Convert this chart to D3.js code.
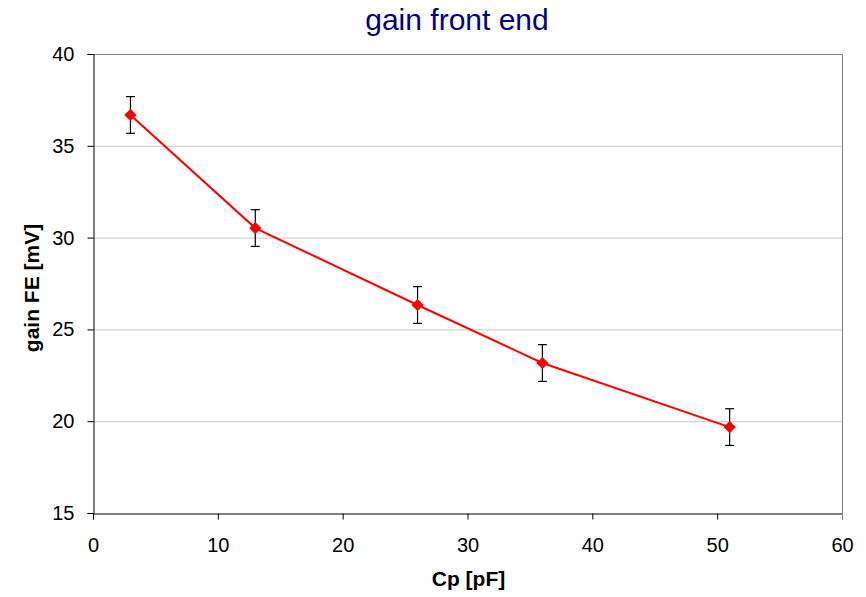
<!DOCTYPE html>
<html>
<head>
<meta charset="utf-8">
<script src="https://cdn.jsdelivr.net/npm/d3@7"></script>
<style>
  html, body { margin: 0; padding: 0; background: #fff; }
  svg { display: block; font-family: "Liberation Sans", Arial, sans-serif; }
</style>
</head>
<body>
<svg id="chart" width="866" height="597"></svg>
<script>
// Front-end gain versus detector capacitance
const capacitance = [3, 13, 26, 36, 51];          // Cp [pF]
const gain = [36.68, 30.52, 26.33, 23.17, 19.68];  // gain FE [mV]
const gainError = [1, 1, 1, 1, 1];                 // ± error [mV]
const xTicks = [0, 10, 20, 30, 40, 50, 60];
const yTicks = [15, 20, 25, 30, 35, 40];

const svg = d3.select("#chart");
const margin = { left: 93, top: 54, right: 842, bottom: 513 };

const x = d3.scaleLinear().domain([0, 60]).range([margin.left, margin.right]);
const y = d3.scaleLinear().domain([15, 40]).range([margin.bottom, margin.top]);

// gridlines
svg.append("g")
  .selectAll("line")
  .data(yTicks.filter(t => t !== 15 && t !== 40))
  .join("line")
  .attr("x1", margin.left).attr("x2", margin.right)
  .attr("y1", d => y(d) + 0.5).attr("y2", d => y(d) + 0.5)
  .attr("stroke", "#c8c8c8").attr("stroke-width", 1);

// plot-area frame (top and right)
svg.append("path")
  .attr("d", `M${margin.left},${margin.top + 0.5}H${margin.right + 0.5}V${margin.bottom}`)
  .attr("fill", "none").attr("stroke", "#808080").attr("stroke-width", 1);

// axes
const xAxis = d3.axisBottom(x).tickValues(xTicks).tickSize(6).tickPadding(18).tickFormat(d3.format("d"));
const yAxis = d3.axisLeft(y).tickValues(yTicks).tickSize(6).tickPadding(13).tickFormat(d3.format("d"));

const gx = svg.append("g").attr("transform", `translate(0,${margin.bottom + 0.5})`).call(xAxis);
const gy = svg.append("g").attr("transform", `translate(${margin.left + 0.5},0)`).call(yAxis);
[gx, gy].forEach(g => {
  g.select(".domain").attr("stroke", "#000");
  g.selectAll(".tick line").attr("stroke", "#000");
  g.selectAll(".tick text").attr("fill", "#000").attr("font-size", 20)
    .attr("font-family", "'Liberation Sans', Arial, sans-serif");
});
gx.selectAll(".tick line").filter(d => d === 60).attr("stroke", "#808080");

// error bars
const cap = 4.5;
const eb = svg.append("g").attr("stroke", "#000").attr("stroke-width", 1.2);
capacitance.forEach((c, i) => {
  const cx = x(c), top = y(gain[i] + gainError[i]), bot = y(gain[i] - gainError[i]);
  eb.append("line").attr("x1", cx).attr("x2", cx).attr("y1", top).attr("y2", bot);
  eb.append("line").attr("x1", cx - cap).attr("x2", cx + cap).attr("y1", top).attr("y2", top);
  eb.append("line").attr("x1", cx - cap).attr("x2", cx + cap).attr("y1", bot).attr("y2", bot);
});

// series line
const pts = capacitance.map((c, i) => [c, gain[i]]);
svg.append("path")
  .datum(pts)
  .attr("fill", "none").attr("stroke", "#ff0000").attr("stroke-width", 2)
  .attr("d", d3.line().x(d => x(d[0])).y(d => y(d[1])));

// diamond markers
svg.append("g")
  .selectAll("path")
  .data(pts)
  .join("path")
  .attr("transform", d => `translate(${x(d[0])},${y(d[1])})`)
  .attr("d", d3.symbol().type(d3.symbolDiamond2).size(95))
  .attr("fill", "#ff0000");

// titles
svg.append("text")
  .attr("x", 457).attr("y", 30).attr("text-anchor", "middle")
  .attr("font-size", 30).attr("fill", "#000080")
  .text("gain front end");

svg.append("text")
  .attr("x", 468.5).attr("y", 586).attr("text-anchor", "middle")
  .attr("font-size", 21).attr("font-weight", "bold").attr("fill", "#000")
  .text("Cp [pF]");

svg.append("text")
  .attr("transform", "translate(39,288) rotate(-90)")
  .attr("text-anchor", "middle")
  .attr("font-size", 21).attr("font-weight", "bold").attr("fill", "#000")
  .text("gain FE [mV]");
</script>
</body>
</html>
